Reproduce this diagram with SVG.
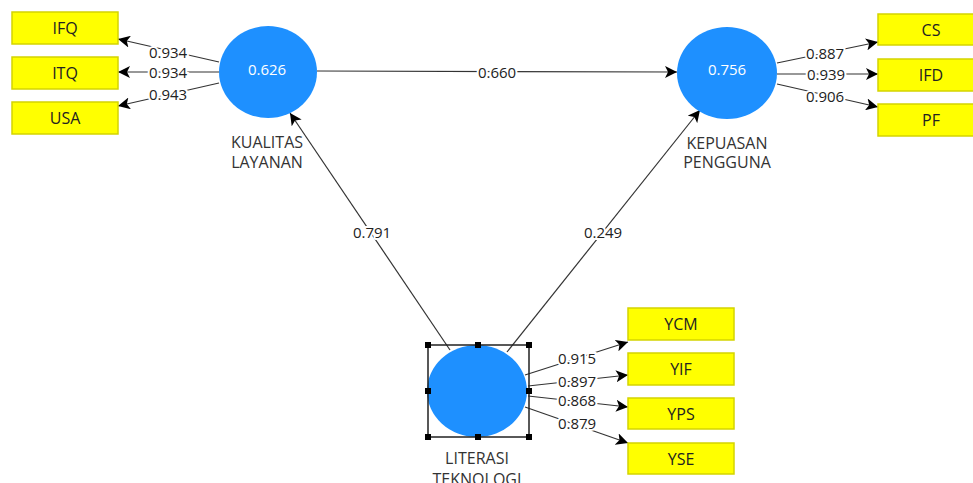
<svg xmlns="http://www.w3.org/2000/svg" width="973" height="483" viewBox="0 0 973 483">
<style>
.ind rect{fill:#ffff00;stroke:#d4d400;stroke-width:1.5}
.ind text{font-family:"Open Sans","Noto Sans",sans-serif;font-size:16px;fill:#222;text-anchor:middle;dominant-baseline:central}
.lv ellipse{fill:#1e90ff}
.lv text.v{font-family:"Open Sans","Noto Sans",sans-serif;font-size:15px;fill:#fff;text-anchor:middle;dominant-baseline:central}
.lv text.n{font-family:"Open Sans","Noto Sans",sans-serif;font-size:16px;fill:#333;text-anchor:middle}
.edges line{stroke:#333;stroke-width:1.2;marker-end:url(#ah)}
.lbl{font-family:"Open Sans","Noto Sans",sans-serif;font-size:15px;fill:#222;text-anchor:middle;dominant-baseline:central;stroke:#fff;stroke-width:4;paint-order:stroke}
.sel{fill:none;stroke:#222;stroke-width:1.5}
.h{fill:#000}
</style>
<defs>
<marker id="ah" viewBox="0 0 10 10" refX="10" refY="5" markerWidth="12" markerHeight="12" markerUnits="userSpaceOnUse" orient="auto">
<path d="M0,0 L10,5 L0,10 L2.5,5 z" fill="#000"/>
</marker>
</defs>
<rect width="973" height="483" fill="#fff"/>
<g class="edges">
<line x1="219" y1="62" x2="118" y2="39"/>
<line x1="219" y1="72" x2="118" y2="72"/>
<line x1="219" y1="83" x2="118" y2="106"/>
<line x1="777" y1="63" x2="878" y2="42"/>
<line x1="777" y1="74" x2="878" y2="74"/>
<line x1="777" y1="84" x2="878" y2="107"/>
<line x1="525" y1="375" x2="628" y2="342"/>
<line x1="528" y1="386" x2="628" y2="375"/>
<line x1="528" y1="396" x2="628" y2="407"/>
<line x1="525" y1="407" x2="628" y2="443"/>
<line x1="317" y1="71" x2="677" y2="72"/>
<line x1="450" y1="350" x2="290" y2="113"/>
<line x1="507" y1="352" x2="700" y2="110"/>
<text class="lbl" x="168" y="52">0.934</text>
<text class="lbl" x="168" y="72">0.934</text>
<text class="lbl" x="168" y="94">0.943</text>
<text class="lbl" x="825" y="53">0.887</text>
<text class="lbl" x="826" y="74">0.939</text>
<text class="lbl" x="825" y="96">0.906</text>
<text class="lbl" x="577" y="358">0.915</text>
<text class="lbl" x="577" y="381">0.897</text>
<text class="lbl" x="577" y="400">0.868</text>
<text class="lbl" x="577" y="423">0.879</text>
<text class="lbl" x="497" y="72">0.660</text>
<text class="lbl" x="372" y="232">0.791</text>
<text class="lbl" x="603" y="232">0.249</text>
</g>
<g id="IFQ" class="ind"><rect x="12" y="12" width="106" height="32"/><text x="65" y="28">IFQ</text></g>
<g id="ITQ" class="ind"><rect x="12" y="57" width="106" height="32"/><text x="65" y="73">ITQ</text></g>
<g id="USA" class="ind"><rect x="12" y="102" width="106" height="32"/><text x="65" y="118">USA</text></g>
<g id="CS" class="ind"><rect x="878" y="14" width="106" height="31"/><text x="931" y="30">CS</text></g>
<g id="IFD" class="ind"><rect x="878" y="59" width="106" height="32"/><text x="931" y="75">IFD</text></g>
<g id="PF" class="ind"><rect x="878" y="104" width="106" height="32"/><text x="931" y="120">PF</text></g>
<g id="YCM" class="ind"><rect x="628" y="308" width="106" height="32"/><text x="681" y="324">YCM</text></g>
<g id="YIF" class="ind"><rect x="628" y="353" width="106" height="32"/><text x="681" y="369">YIF</text></g>
<g id="YPS" class="ind"><rect x="628" y="398" width="106" height="31"/><text x="681" y="414">YPS</text></g>
<g id="YSE" class="ind"><rect x="628" y="443" width="106" height="31"/><text x="681" y="459">YSE</text></g>
<g id="KUALITAS" class="lv"><ellipse cx="268" cy="72" rx="49" ry="46"/><text class="v" x="267" y="69">0.626</text><text class="n" x="267" y="148">KUALITAS</text><text class="n" x="267" y="168">LAYANAN</text></g>
<g id="KEPUASAN" class="lv"><ellipse cx="727" cy="73" rx="50" ry="46"/><text class="v" x="727" y="69">0.756</text><text class="n" x="727" y="149">KEPUASAN</text><text class="n" x="727" y="168">PENGGUNA</text></g>
<g id="LITERASI" class="lv"><ellipse cx="477" cy="391" rx="50" ry="46"/><text class="n" x="477" y="464">LITERASI</text><text class="n" x="477" y="485">TEKNOLOGI</text>
<rect class="sel" x="428" y="345" width="101" height="92"/>
<rect class="h" x="425" y="342" width="6" height="6"/><rect class="h" x="475" y="342" width="6" height="6"/><rect class="h" x="526" y="342" width="6" height="6"/>
<rect class="h" x="425" y="388" width="6" height="6"/><rect class="h" x="526" y="388" width="6" height="6"/>
<rect class="h" x="425" y="434" width="6" height="6"/><rect class="h" x="475" y="434" width="6" height="6"/><rect class="h" x="526" y="434" width="6" height="6"/>
</g>
</svg>
